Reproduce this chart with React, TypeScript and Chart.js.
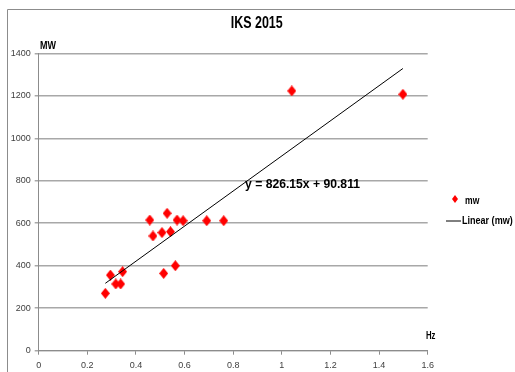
import React, { useEffect, useRef } from "react";
import { Chart, registerables } from "chart.js";

Chart.register(...registerables);

const TITLE = "IKS 2015";
const Y_TITLE = "MW";
const X_TITLE = "Hz";
const SERIES_LABEL = "mw";
const TREND_LABEL = "Linear (mw)";
const SLOPE = 826.15;
const INTERCEPT = 90.811;
const EQUATION = "y = 826.15x + 90.811";

const hz = [0.274, 0.295, 0.317, 0.337, 0.345, 0.457, 0.47, 0.507, 0.514, 0.528, 0.542, 0.562, 0.569, 0.594, 0.691, 0.761, 1.041, 1.498];
const mw = [270, 356, 314, 314, 372, 615, 540, 556, 364, 647, 560, 400, 615, 612, 612, 612, 1223, 1207];

const X_MIN = 0, X_MAX = 1.6, X_STEP = 0.2;
const Y_MIN = 0, Y_MAX = 1400, Y_STEP = 200;

const FONT = '"Liberation Sans", Arial, sans-serif';

function makeDiamond(w: number, h: number, color: string) {
  const c = document.createElement("canvas");
  c.width = w;
  c.height = h;
  const ctx = c.getContext("2d")!;
  ctx.fillStyle = color;
  ctx.beginPath();
  ctx.moveTo(w / 2, 0);
  ctx.lineTo(w, h / 2);
  ctx.lineTo(w / 2, h);
  ctx.lineTo(0, h / 2);
  ctx.closePath();
  ctx.fill();
  return c;
}

function fitText(ctx: CanvasRenderingContext2D, text: string, left: number, cy: number, width: number, size: number) {
  ctx.save();
  ctx.font = `bold ${size}px ${FONT}`;
  ctx.textAlign = "left";
  ctx.textBaseline = "middle";
  const w = ctx.measureText(text).width;
  const sx = width / w;
  ctx.translate(left, cy);
  ctx.scale(sx, 1);
  ctx.fillText(text, 0, 0);
  ctx.restore();
}

export default function App() {
  const ref = useRef<HTMLCanvasElement>(null);
  useEffect(() => {
    const diamond = makeDiamond(9, 11, "#ff0000");
    const smallDiamond = makeDiamond(6, 8, "#ff0000");
    const x0 = Math.min(...hz);
    const x1 = Math.max(...hz);
    const trend = [
      { x: x0, y: SLOPE * x0 + INTERCEPT },
      { x: x1, y: SLOPE * x1 + INTERCEPT },
    ];
    const decor = {
      id: "decor",
      afterDraw(chart: any) {
        const ctx = chart.ctx as CanvasRenderingContext2D;
        ctx.save();
        ctx.strokeStyle = "#8c8c8c";
        ctx.lineWidth = 1;
        ctx.beginPath();
        ctx.moveTo(7.5, 380);
        ctx.lineTo(7.5, 9.5);
        ctx.lineTo(520, 9.5);
        ctx.stroke();
        ctx.fillStyle = "#000";
        fitText(ctx, TITLE, 230.7, 23.5, 52, 17);
        fitText(ctx, Y_TITLE, 40, 45.8, 16, 10);
        fitText(ctx, X_TITLE, 426, 335.8, 9.5, 10);
        fitText(ctx, EQUATION, 245, 184.3, 115, 13.5);
        ctx.drawImage(smallDiamond, 452, 195);
        fitText(ctx, SERIES_LABEL, 465, 201, 14.3, 10);
        ctx.strokeStyle = "#000";
        ctx.lineWidth = 1;
        ctx.beginPath();
        ctx.moveTo(446, 221);
        ctx.lineTo(461, 221);
        ctx.stroke();
        fitText(ctx, TREND_LABEL, 462, 221.5, 50.7, 10);
        ctx.restore();
      },
    };
    const chart = new Chart(ref.current!, {
      type: "scatter",
      data: {
        datasets: [
          {
            label: SERIES_LABEL,
            data: hz.map((x, i) => ({ x, y: mw[i] })),
            pointStyle: diamond as any,
            pointRadius: 5,
            backgroundColor: "#ff0000",
            borderColor: "#ff0000",
            order: 1,
          },
          {
            type: "line",
            label: TREND_LABEL,
            data: trend,
            borderColor: "#000",
            borderWidth: 1,
            pointRadius: 0,
            fill: false,
            order: 0,
          } as any,
        ],
      },
      plugins: [decor],
      options: {
        responsive: false,
        animation: false,
        layout: { padding: { top: 53.3, right: 87.3, left: 0, bottom: 0 } },
        plugins: { legend: { display: false }, title: { display: false }, tooltip: { enabled: false } },
        scales: {
          x: {
            type: "linear",
            min: X_MIN,
            max: X_MAX,
            afterFit: (s: any) => { s.height = 21.3; },
            ticks: {
              stepSize: X_STEP,
              color: "#404040",
              font: { family: FONT, size: 9 },
              padding: 5.5,
              maxRotation: 0,
              callback: (v: any) => String(Math.round(Number(v) * 10) / 10),
            },
            grid: { drawOnChartArea: false, drawTicks: true, tickLength: 4, tickColor: "#8c8c8c" },
            border: { display: true, color: "#8c8c8c", width: 1 },
          },
          y: {
            type: "linear",
            min: Y_MIN,
            max: Y_MAX,
            afterFit: (s: any) => { s.width = 38.7; },
            ticks: {
              stepSize: Y_STEP,
              color: "#404040",
              font: { family: FONT, size: 9 },
              padding: 4,
              callback: (v: any) => String(v),
            },
            grid: { color: "#a8a8a8", lineWidth: 1.5, tickLength: 4, tickColor: "#a8a8a8" },
            border: { display: true, color: "#8c8c8c", width: 1 },
          },
        },
      },
    });
    return () => chart.destroy();
  }, []);
  return (
    <div style={{ position: "fixed", left: 0, top: 0, width: 515, height: 372, background: "#fff" }}>
      <canvas ref={ref} width={515} height={372} style={{ width: 515, height: 372, display: "block" }} />
    </div>
  );
}
